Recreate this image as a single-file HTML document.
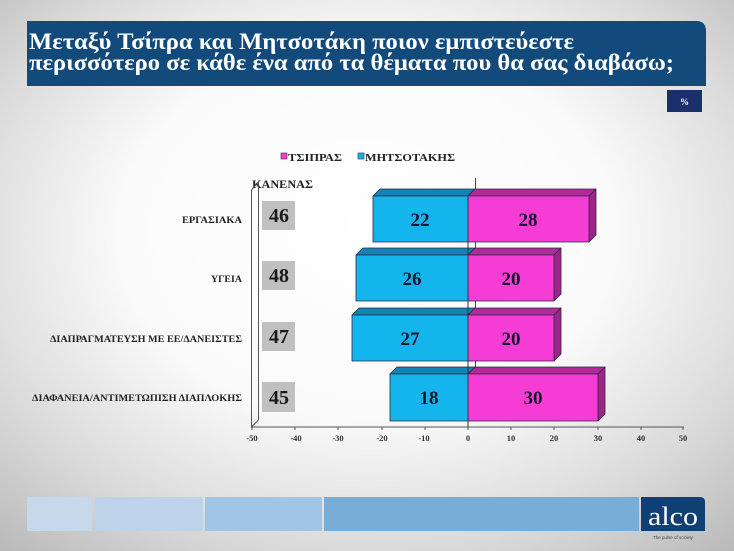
<!DOCTYPE html>
<html>
<head>
<meta charset="utf-8">
<style>
html,body{margin:0;padding:0;width:734px;height:551px;overflow:hidden;}
svg{display:block;}
text{font-family:"Liberation Serif","Noto Serif CJK SC",serif;font-weight:bold;}
</style>
</head>
<body>
<svg width="734" height="551" viewBox="0 0 734 551" xmlns="http://www.w3.org/2000/svg">
<defs>
<radialGradient id="bg" cx="50%" cy="45%" r="75%" fx="50%" fy="40%">
<stop offset="0" stop-color="#ffffff"/>
<stop offset="0.45" stop-color="#fafafa"/>
<stop offset="0.75" stop-color="#dadada"/>
<stop offset="1" stop-color="#b8b8b8"/>
</radialGradient>
</defs>
<rect x="0" y="0" width="734" height="551" fill="url(#bg)"/>

<!-- Title box -->
<path d="M27 21 H696 Q706 21 706 31 V86 H27 Z" fill="#134a7c"/>
<text x="29" y="49" font-size="23" fill="#ffffff" textLength="545" lengthAdjust="spacingAndGlyphs">Μεταξύ Τσίπρα και Μητσοτάκη ποιον εμπιστεύεστε</text>
<text x="29" y="70" font-size="23" fill="#ffffff" textLength="645" lengthAdjust="spacingAndGlyphs">περισσότερο σε κάθε ένα από τα θέματα που θα σας διαβάσω;</text>

<!-- % box -->
<rect x="667" y="90" width="35" height="22" fill="#1b2f6b"/>
<text x="684.5" y="105" font-size="9" fill="#ffffff" text-anchor="middle">%</text>

<!-- Legend -->
<rect x="281" y="153" width="6" height="6" fill="#f03cd2" stroke="#333" stroke-width="0.6"/>
<text x="288" y="161" font-size="11" fill="#222" textLength="54" lengthAdjust="spacingAndGlyphs">ΤΣΙΠΡΑΣ</text>
<rect x="358" y="153" width="6" height="6" fill="#14b4ec" stroke="#333" stroke-width="0.6"/>
<text x="365" y="161" font-size="11" fill="#222" textLength="90" lengthAdjust="spacingAndGlyphs">ΜΗΤΣΟΤΑΚΗΣ</text>

<!-- ΚΑΝΕΝΑΣ -->
<text x="252" y="188" font-size="12" fill="#222" textLength="61" lengthAdjust="spacingAndGlyphs">ΚΑΝΕΝΑΣ</text>

<!-- Left wall -->
<g stroke="#555" stroke-width="1" fill="none">
<line x1="251.5" y1="190" x2="251.5" y2="427"/>
<line x1="258.5" y1="182" x2="258.5" y2="420"/>
<line x1="251.5" y1="190" x2="258.5" y2="182"/>
<line x1="251.5" y1="427" x2="258.5" y2="420"/>
</g>

<!-- back zero line -->
<line x1="475.5" y1="178" x2="475.5" y2="420" stroke="#444" stroke-width="1"/>

<!-- Category labels -->
<g font-size="9.5" fill="#222" text-anchor="end">
<text x="242" y="223" textLength="60" lengthAdjust="spacingAndGlyphs">ΕΡΓΑΣΙΑΚΑ</text>
<text x="242" y="282" textLength="31" lengthAdjust="spacingAndGlyphs">ΥΓΕΙΑ</text>
<text x="242" y="342" textLength="192" lengthAdjust="spacingAndGlyphs">ΔΙΑΠΡΑΓΜΑΤΕΥΣΗ ΜΕ ΕΕ/ΔΑΝΕΙΣΤΕΣ</text>
<text x="242" y="401" textLength="210" lengthAdjust="spacingAndGlyphs">ΔΙΑΦΑΝΕΙΑ/ΑΝΤΙΜΕΤΩΠΙΣΗ  ΔΙΑΠΛΟΚΗΣ</text>
</g>

<!-- Gray boxes -->
<g fill="#c0c0c0">
<rect x="262" y="201" width="33" height="29"/>
<rect x="262" y="261" width="33" height="29"/>
<rect x="262" y="322" width="33" height="29"/>
<rect x="262" y="382" width="33" height="30"/>
</g>
<g font-size="20" fill="#1a1a1a" text-anchor="middle">
<text x="279" y="222">46</text>
<text x="279" y="282">48</text>
<text x="279" y="343">47</text>
<text x="279" y="404">45</text>
</g>

<!-- Bars -->
<g stroke="#2a2a40" stroke-width="0.8" stroke-linejoin="round">
<!-- Row 1 -->
<polygon points="373,196 380,189 475,189 468,196" fill="#1283b5"/>
<rect x="373" y="196" width="95" height="46" fill="#14b4ec"/>
<polygon points="468,196 475,189 596,189 589,196" fill="#b22a9a"/>
<polygon points="589,196 596,189 596,235 589,242" fill="#a0238a"/>
<rect x="468" y="196" width="121" height="46" fill="#f53cd5"/>
<!-- Row 2 -->
<polygon points="356,255 363,248 475,248 468,255" fill="#1283b5"/>
<rect x="356" y="255" width="112" height="46" fill="#14b4ec"/>
<polygon points="468,255 475,248 561,248 554,255" fill="#b22a9a"/>
<polygon points="554,255 561,248 561,294 554,301" fill="#a0238a"/>
<rect x="468" y="255" width="86" height="46" fill="#f53cd5"/>
<!-- Row 3 -->
<polygon points="352,315 359,308 475,308 468,315" fill="#1283b5"/>
<rect x="352" y="315" width="116" height="46" fill="#14b4ec"/>
<polygon points="468,315 475,308 561,308 554,315" fill="#b22a9a"/>
<polygon points="554,315 561,308 561,354 554,361" fill="#a0238a"/>
<rect x="468" y="315" width="86" height="46" fill="#f53cd5"/>
<!-- Row 4 -->
<polygon points="390,374 397,367 475,367 468,374" fill="#1283b5"/>
<rect x="390" y="374" width="78" height="47" fill="#14b4ec"/>
<polygon points="468,374 475,367 605,367 598,374" fill="#b22a9a"/>
<polygon points="598,374 605,367 605,414 598,421" fill="#a0238a"/>
<rect x="468" y="374" width="130" height="47" fill="#f53cd5"/>
</g>

<!-- front zero line -->
<line x1="468" y1="196" x2="468" y2="427" stroke="#333" stroke-width="1"/>

<!-- Bar labels -->
<g font-size="19" fill="#14142a" text-anchor="middle">
<text x="420" y="226">22</text>
<text x="528" y="226">28</text>
<text x="412" y="285">26</text>
<text x="511" y="285">20</text>
<text x="410" y="345">27</text>
<text x="511" y="345">20</text>
<text x="429" y="404">18</text>
<text x="533" y="404">30</text>
</g>

<!-- X axis -->
<line x1="251" y1="427" x2="684" y2="427" stroke="#555" stroke-width="1"/>
<g stroke="#555" stroke-width="1">
<line x1="252" y1="427" x2="252" y2="430"/>
<line x1="295" y1="427" x2="295" y2="430"/>
<line x1="338" y1="427" x2="338" y2="430"/>
<line x1="382" y1="427" x2="382" y2="430"/>
<line x1="425" y1="427" x2="425" y2="430"/>
<line x1="468" y1="427" x2="468" y2="430"/>
<line x1="511" y1="427" x2="511" y2="430"/>
<line x1="554" y1="427" x2="554" y2="430"/>
<line x1="598" y1="427" x2="598" y2="430"/>
<line x1="641" y1="427" x2="641" y2="430"/>
<line x1="683" y1="427" x2="683" y2="430"/>
</g>
<g font-size="8.5" fill="#333" text-anchor="middle">
<text x="252" y="441">-50</text>
<text x="296" y="441">-40</text>
<text x="338" y="441">-30</text>
<text x="382" y="441">-20</text>
<text x="424" y="441">-10</text>
<text x="468" y="441">0</text>
<text x="511" y="441">10</text>
<text x="554" y="441">20</text>
<text x="598" y="441">30</text>
<text x="641" y="441">40</text>
<text x="683" y="441">50</text>
</g>

<!-- Bottom strip -->
<rect x="27" y="497" width="65" height="34" fill="#c5d9ea"/>
<rect x="95" y="497" width="108" height="34" fill="#bcd3e9"/>
<rect x="205" y="497" width="117" height="34" fill="#a1c5e4"/>
<rect x="324" y="497" width="315" height="34" fill="#77add7"/>
<path d="M641 497 H700 Q705 497 705 502 V531 H641 Z" fill="#0f3f73"/>
<text x="673" y="525" font-size="26" fill="#ffffff" text-anchor="middle" style="font-weight:normal" textLength="50" lengthAdjust="spacingAndGlyphs">alco</text>
<text x="673" y="539" font-size="4.5" fill="#444" text-anchor="middle" style="font-family:'Liberation Sans',sans-serif;font-weight:normal">The pulse of society</text>
</svg>
</body>
</html>
